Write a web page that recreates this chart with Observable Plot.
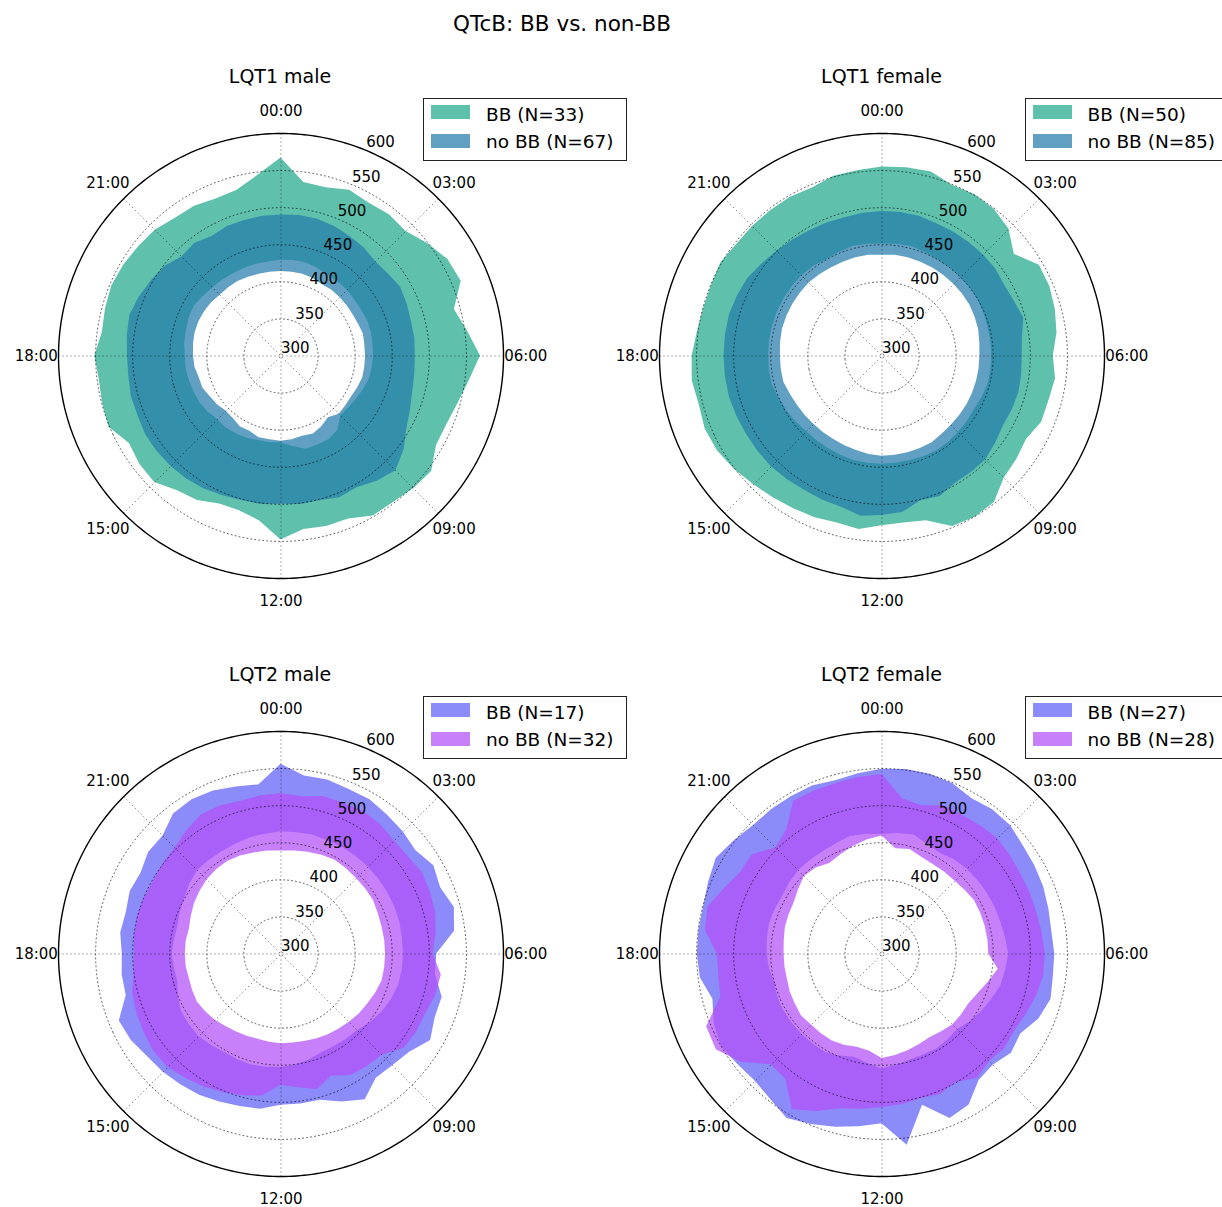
<!DOCTYPE html>
<html>
<head>
<meta charset="utf-8">
<script src="https://cdn.jsdelivr.net/npm/d3@7"></script>
<script src="https://cdn.jsdelivr.net/npm/@observablehq/plot@0.6"></script>
<style>
  body { margin: 0; background: #fff; font-family: "DejaVu Sans", sans-serif; color: #000; }
  #root { position: relative; width: 1222px; height: 1207px; overflow: hidden; background: #fff; }
  .abs { position: absolute; white-space: nowrap; }
  .ttl { transform: translate(-50%, -50%); }
  .legend { position: absolute; border: 1.3px solid #222; background: #fff; box-sizing: border-box; }
  .sw { position: absolute; width: 39px; height: 14px; }
  .lt { position: absolute; font-size: 18.5px; line-height: 1; transform: translateY(-50%); white-space: nowrap; }
</style>
</head>
<body>
<div id="root"></div>
<script>
// ---------------- data ----------------
// sample times: every 30 minutes, 00:00 .. 23:30
const hours = d3.range(48).map(i => i / 2);
const hourTicks = [0, 3, 6, 9, 12, 15, 18, 21];
const hourTickLabels = ["00:00", "03:00", "06:00", "09:00", "12:00", "15:00", "18:00", "21:00"];
const rTicks = [300, 350, 400, 450, 500, 550, 600];
const rGrid = [350, 400, 450, 500, 550];
const panelTitles = ["LQT1 male", "LQT1 female", "LQT2 male", "LQT2 female"];
const legendLabels = [
  ["BB (N=33)", "no BB (N=67)"],
  ["BB (N=50)", "no BB (N=85)"],
  ["BB (N=17)", "no BB (N=32)"],
  ["BB (N=27)", "no BB (N=28)"]
];

// LQT1 male (QTcB band, ms)
const lqt1MaleBBLo = [429,430,430,428,426,426,426,425,425,426,426,425,425,424,423,420,417,415,414,426,430,430,430,423,417,418,418,420,421,422,421,424,426,427,428,429,429,431,432,434,435,432,430,429,428,428,428,428];
const lqt1MaleBBHi = [567,536,535,542,538,540,538,549,560,563,542,554,569,556,547,542,542,556,553,549,549,538,538,536,548,524,516,516,525,529,541,540,536,551,549,547,551,543,545,547,545,542,540,534,533,529,531,545];
const lqt1MaleNoLo = [414,414,414,413,411,412,412,412,412,413,415,414,414,414,414,412,410,410,411,405,410,414,412,414,415,414,414,410,410,406,405,408,410,414,414,417,418,419,420,420,419,418,416,416,416,415,414,414];
const lqt1MaleNoHi = [490,491,491,489,486,484,480,482,486,484,482,482,481,482,484,489,496,509,519,513,505,507,502,502,500,502,502,504,507,509,510,511,511,509,509,507,507,509,511,507,502,498,489,491,486,489,489,490];
// LQT1 female
const lqt1FemaleBBLo = [451,452,453,451,450,450,450,450,450,449,448,448,448,448,448,446,444,445,446,447,448,447,446,446,446,446,446,445,444,444,444,446,448,450,453,453,453,453,453,453,453,453,453,452,450,451,453,452];
const lqt1FemaleBBHi = [555,556,557,549,551,549,542,525,545,545,542,538,531,536,533,533,525,529,533,549,551,549,530,527,529,536,533,536,538,541,545,551,556,558,555,558,556,551,549,549,551,547,547,547,547,545,551,552];
const lqt1FemaleNoLo = [436,437,437,437,437,437,437,437,437,436,435,433,432,432,432,432,432,432,432,433,435,435,435,435,435,434,432,431,430,430,430,431,432,434,437,437,437,438,439,439,439,439,439,438,437,437,437,437];
const lqt1FemaleNoHi = [495,495,495,493,493,493,493,493,491,493,498,491,489,490,491,490,489,493,498,498,498,505,502,513,515,518,511,510,509,510,511,511,511,512,513,513,513,513,513,511,509,504,500,497,495,494,493,494];
// LQT2 male
const lqt2MaleBBLo = [465,465,466,465,466,466,466,466,466,466,466,465,465,465,464,461,457,452,446,445,444,444,448,451,453,454,455,454,453,455,457,456,455,450,444,445,447,445,444,447,450,455,459,459,459,460,462,463];
const lqt2MaleBBHi = [556,542,543,540,540,536,533,529,538,533,542,536,510,510,525,525,533,518,513,511,527,516,504,504,504,511,513,516,520,522,525,527,533,536,516,516,514,518,516,520,518,525,525,538,540,538,533,530];
const lqt2MaleNoLo = [439,440,442,444,446,445,444,444,444,442,441,441,441,441,441,438,435,433,430,428,426,424,422,421,421,420,419,420,421,423,426,428,430,429,428,429,429,429,428,431,435,438,441,443,444,443,441,440];
const lqt2MaleNoHi = [516,514,520,520,522,520,516,516,520,518,516,511,505,518,516,511,511,509,493,491,489,478,489,482,477,493,498,502,507,511,516,516,513,510,507,500,498,499,500,499,498,500,502,509,516,516,513,515];
// LQT2 female
const lqt2FemaleBBLo = [461,464,466,460,457,460,462,463,464,465,466,468,471,468,466,460,455,450,444,446,448,447,448,451,455,449,444,449,453,453,453,453,453,452,450,453,455,456,457,456,455,457,459,459,459,461,464,463];
const lqt2FemaleBBHi = [549,551,551,549,542,545,545,540,538,536,533,531,533,533,536,529,516,520,512,515,535,540,511,560,529,535,542,549,556,547,542,545,550,545,536,547,549,549,549,553,558,551,545,545,545,545,542,545];
const lqt2FemaleNoLo = [459,443,446,441,439,439,439,441,444,444,444,444,444,458,448,440,435,435,435,432,430,432,435,438,441,432,430,433,435,435,435,437,435,434,432,432,432,433,435,436,437,442,448,446,441,445,450,455];
const lqt2FemaleNoHi = [542,511,507,516,516,518,520,518,516,516,516,518,520,520,516,511,507,509,505,511,500,505,502,505,507,511,516,530,542,513,511,540,558,556,525,522,522,540,543,530,520,520,502,511,538,538,538,540];

const lqt1Colors = { bb: "#5fc0ac", no: "rgb(36,123,170)" };
const lqt2Colors = { bb: "#8b8bfa", no: "rgb(179,79,248)" };

// ---------------- layout ----------------
const R = 222.5;              // outer radius (px)
const M = 57, MT = 40;        // margins around the polar frame
const centers = [[280, 355], [881.5, 355], [280, 953], [881.5, 953]];

const panels = [
  { bbLo: lqt1MaleBBLo, bbHi: lqt1MaleBBHi, noLo: lqt1MaleNoLo, noHi: lqt1MaleNoHi, colors: lqt1Colors },
  { bbLo: lqt1FemaleBBLo, bbHi: lqt1FemaleBBHi, noLo: lqt1FemaleNoLo, noHi: lqt1FemaleNoHi, colors: lqt1Colors },
  { bbLo: lqt2MaleBBLo, bbHi: lqt2MaleBBHi, noLo: lqt2MaleNoLo, noHi: lqt2MaleNoHi, colors: lqt2Colors },
  { bbLo: lqt2FemaleBBLo, bbHi: lqt2FemaleBBHi, noLo: lqt2FemaleNoLo, noHi: lqt2FemaleNoHi, colors: lqt2Colors }
];

// polar helpers: radius 300..600 -> 0..30 degrees from the pole; clock hour -> longitude
const rMin = 300, rMax = 600, degMax = 30;
const dist = v => (v - rMin) / (rMax - rMin) * degMax;
const lat = v => 90 - dist(v);
const lon = h => 180 - h * 15;

function band(lo, hi) {
  const n = hours.length;
  return d3.range(n + 1).map(i => ({ h: i < n ? hours[i] : 24, lo: lo[i % n], hi: hi[i % n] }));
}

function polar(p) {
  return Plot.plot({
    width: M * 2 + 2 * R,
    height: MT * 2 + 2 * R,
    marginLeft: M, marginRight: M, marginTop: MT, marginBottom: MT,
    style: { fontFamily: "DejaVu Sans, sans-serif", fontSize: "15px", overflow: "visible", background: "transparent" },
    projection: {
      type: "azimuthal-equidistant",
      rotate: [0, -90],
      clip: false,
      domain: d3.geoCircle().center([0, 90]).radius(degMax)()
    },
    marks: [
      Plot.area(band(p.bbLo, p.bbHi), {
        x1: d => lon(d.h), y1: d => lat(d.hi), x2: d => lon(d.h), y2: d => lat(d.lo),
        fill: p.colors.bb
      }),
      Plot.area(band(p.noLo, p.noHi), {
        x1: d => lon(d.h), y1: d => lat(d.hi), x2: d => lon(d.h), y2: d => lat(d.lo),
        fill: p.colors.no, fillOpacity: 0.72
      }),
      Plot.geo(rGrid, {
        geometry: v => d3.geoCircle().center([0, 90]).radius(dist(v)).precision(1)(),
        fill: "none", stroke: "#000", strokeOpacity: 0.7, strokeWidth: 0.9, strokeDasharray: "1,3"
      }),
      Plot.link(d3.range(0, 24, 3), {
        x1: h => lon(h), y1: () => lat(rMax), x2: h => lon(h), y2: () => 90,
        stroke: "#000", strokeOpacity: 0.7, strokeWidth: 0.9, strokeDasharray: "1,3"
      }),
      Plot.geo([rMax], {
        geometry: v => d3.geoCircle().center([0, 90]).radius(dist(v)).precision(1)(),
        fill: "none", stroke: "#000", strokeWidth: 1.4
      }),
      Plot.text(rTicks, {
        x: () => lon(1.5), y: d => lat(d), text: d => String(d),
        textAnchor: "start", lineAnchor: "bottom", dy: -3, fontSize: 15, fill: "#000"
      }),
      Plot.text(hourTicks, {
        x: h => lon(h), y: () => lat(630), text: (h, i) => hourTickLabels[i],
        textAnchor: "middle", lineAnchor: "middle", fontSize: 15, fill: "#000"
      })
    ]
  });
}

// ---------------- render ----------------
const root = document.getElementById("root");

const main = document.createElement("div");
main.className = "abs ttl";
main.style.cssText = "left:562px;top:23px;font-size:21.5px;";
main.textContent = "QTcB: BB vs. non-BB";
root.appendChild(main);

panels.forEach((p, i) => {
  const [cx, cy] = centers[i];
  const svg = polar(p);
  svg.style.position = "absolute";
  svg.style.left = (cx - M - R) + "px";
  svg.style.top = (cy - MT - R) + "px";
  root.appendChild(svg);

  const t = document.createElement("div");
  t.className = "abs ttl";
  t.style.cssText = `left:${cx}px;top:${cy - 279}px;font-size:19px;`;
  t.textContent = panelTitles[i];
  root.appendChild(t);

  const lg = document.createElement("div");
  lg.className = "legend";
  lg.style.cssText = `left:${cx + 143}px;top:${cy - 257}px;width:204px;height:63px;`;
  const cols = [p.colors.bb, p.colors.no];
  const ops = [1, 0.72];
  legendLabels[i].forEach((lab, k) => {
    const sw = document.createElement("div");
    sw.className = "sw";
    sw.style.cssText = `left:7px;top:${6 + k * 28.6}px;background:${cols[k]};opacity:${ops[k]};`;
    lg.appendChild(sw);
    const tx = document.createElement("div");
    tx.className = "lt";
    tx.style.cssText = `left:62px;top:${16 + k * 27}px;`;
    tx.textContent = lab;
    lg.appendChild(tx);
  });
  root.appendChild(lg);
});
</script>
</body>
</html>
